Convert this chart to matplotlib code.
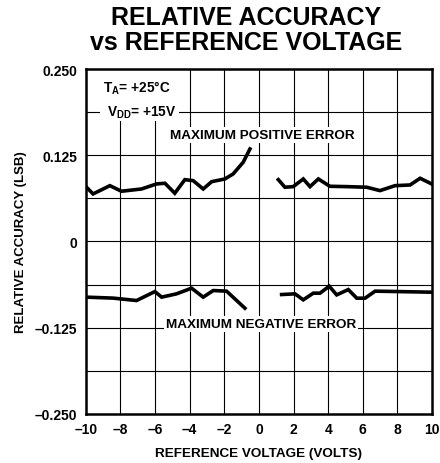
import matplotlib.pyplot as plt
import numpy as np
from matplotlib.patches import Rectangle

plt.rcParams['font.family'] = ['Liberation Sans', 'DejaVu Sans']
plt.rcParams['font.weight'] = 'bold'
plt.rcParams['mathtext.fontset'] = 'custom'
plt.rcParams['mathtext.bf'] = 'Liberation Sans:bold'
plt.rcParams['mathtext.rm'] = 'Liberation Sans:bold'
plt.rcParams['mathtext.default'] = 'bf'

# [START data]
pos_left_x = [-9.96, -9.58, -8.61, -7.94, -6.78, -5.91, -5.43, -4.86, -4.28, -3.80,
              -3.22, -2.73, -1.97, -1.49, -0.91, -0.52]
pos_left_y = [0.0786, 0.0689, 0.0809, 0.0728, 0.0761, 0.0834, 0.0844, 0.0699, 0.0896, 0.0882,
              0.0761, 0.0867, 0.0906, 0.0979, 0.1148, 0.1341]
pos_right_x = [1.12, 1.50, 1.98, 2.56, 2.95, 3.43, 4.10, 5.07, 6.23, 6.99, 7.86, 8.73, 9.31, 9.98]
pos_right_y = [0.0896, 0.0786, 0.0795, 0.0906, 0.0795, 0.0906, 0.0800, 0.0795, 0.0786, 0.0737,
               0.0809, 0.0819, 0.0916, 0.0834]
neg_left_x = [-9.96, -8.42, -7.07, -6.01, -5.62, -4.76, -3.89, -3.22, -2.64, -1.87, -0.81]
neg_left_y = [-0.0808, -0.0822, -0.0857, -0.0727, -0.0808, -0.0760, -0.0678, -0.0808, -0.0712,
              -0.0721, -0.0968]
neg_right_x = [1.31, 2.08, 2.56, 3.14, 3.53, 4.06, 4.49, 5.16, 5.65, 6.13, 6.71, 9.98]
neg_right_y = [-0.0770, -0.0760, -0.0847, -0.0750, -0.0750, -0.0649, -0.0775, -0.0698, -0.0823,
               -0.0823, -0.0721, -0.0736]

x_ticks = [-10, -8, -6, -4, -2, 0, 2, 4, 6, 8, 10]
y_ticks = [-0.250, -0.125, 0, 0.125, 0.250]
y_tick_labels = ['\u20130.250', '\u20130.125', '0', '0.125', '0.250']
x_tick_labels = ['\u201310', '\u20138', '\u20136', '\u20134', '\u20132', '0', '2', '4', '6', '8', '10']
# [END data]

fig = plt.figure(figsize=(4.4, 4.64), dpi=100)
ax = fig.add_axes([0.195, 0.106, 0.787, 0.743])

ax.set_xlim(-10, 10)
ax.set_ylim(-0.25, 0.25)

# grid
for gx in np.arange(-8, 10, 2):
    ax.axvline(gx, color='black', lw=0.8, zorder=1)
for gy in np.arange(-0.1875, 0.25, 0.0625):
    ax.axhline(gy, color='black', lw=0.8, zorder=1)

for xs, ys in [(pos_left_x, pos_left_y), (pos_right_x, pos_right_y),
               (neg_left_x, neg_left_y), (neg_right_x, neg_right_y)]:
    ax.plot(xs, ys, color='black', lw=2.6, solid_joinstyle='miter', zorder=3)

ax.set_xticks(x_ticks)
ax.set_xticklabels(x_tick_labels)
ax.set_yticks(y_ticks)
ax.set_yticklabels(y_tick_labels)
ax.tick_params(length=0, labelsize=10, pad=6)
for s in ax.spines.values():
    s.set_linewidth(1.8)
    s.set_zorder(5)

ax.set_xlabel('REFERENCE VOLTAGE (VOLTS)', fontsize=9.7, fontweight='bold', labelpad=8)
ax.set_ylabel('RELATIVE ACCURACY (LSB)', fontsize=9.5, fontweight='bold', labelpad=6)

# white block behind the conditions text
ax.add_patch(Rectangle((-9.2, 0.174), 4.6, 0.076, facecolor='white', edgecolor='none',
                       zorder=2))
box = dict(facecolor='white', edgecolor='none', pad=1.5)
ax.text(-9.0, 0.224, r'T$_{A}$= +25°C', fontsize=9.8, ha='left', va='center', zorder=4)
ax.text(-8.75, 0.1875, r'V$_{DD}$= +15V', fontsize=9.8, ha='left', va='center', zorder=4)
ax.text(0.2, 0.155, 'MAXIMUM POSITIVE ERROR', fontsize=9.7, ha='center', va='center',
        zorder=4, bbox=box)
ax.text(0.1, -0.120, 'MAXIMUM NEGATIVE ERROR', fontsize=9.7, ha='center', va='center',
        zorder=4, bbox=box)

fig.text(0.56, 0.935, 'RELATIVE ACCURACY\nvs REFERENCE VOLTAGE', fontsize=18,
         fontweight='bold', ha='center', va='center', linespacing=1.05)

fig.savefig('out.png', dpi=100)
